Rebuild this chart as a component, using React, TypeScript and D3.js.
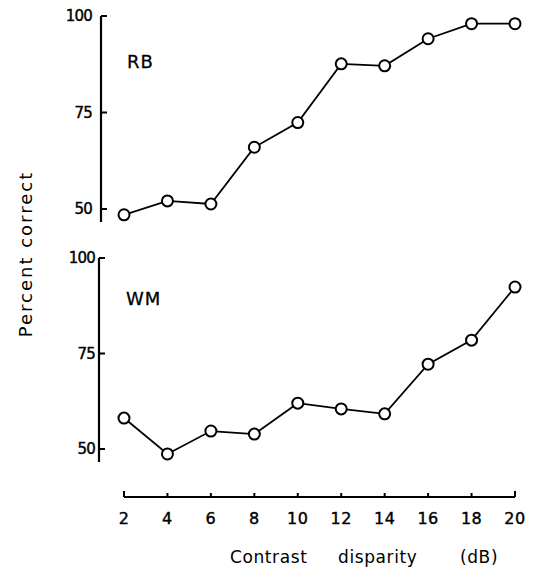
import React from "react";
import * as d3 from "d3";

const disparity = [2, 4, 6, 8, 10, 12, 14, 16, 18, 20];
const rbCorrect = [48.5, 52.1, 51.3, 66, 72.4, 87.6, 87.1, 94.1, 98, 98];
const wmCorrect = [58.1, 48.7, 54.7, 53.9, 62, 60.5, 59.2, 72.2, 78.5, 92.4];
const yTicks = [50, 75, 100];

const W = 535;
const H = 575;
const font = "'DejaVu Sans', sans-serif";

const x = d3.scaleLinear().domain([2, 20]).range([124, 515]);

const panels = [
  { name: "RB", values: rbCorrect, axisX: 101, y: d3.scaleLinear().domain([50, 100]).range([209, 16]), bottom: 222, labelGap: 9, nameX: 127, nameY: 68 },
  { name: "WM", values: wmCorrect, axisX: 99, y: d3.scaleLinear().domain([50, 100]).range([449, 258]), bottom: 462, labelGap: 4, nameX: 126, nameY: 305 },
];

function Panel({ p }: { p: (typeof panels)[number] }) {
  const line = d3
    .line<number>()
    .x((_, i) => x(disparity[i]))
    .y((d) => p.y(d));
  return (
    <g>
      <line x1={p.axisX} x2={p.axisX} y1={p.y(100)} y2={p.bottom} stroke="#000" strokeWidth={2.2} />
      {yTicks.map((t) => (
        <g key={t}>
          <line x1={p.axisX} x2={p.axisX + 6} y1={p.y(t)} y2={p.y(t)} stroke="#000" strokeWidth={2} />
          <text
            x={p.axisX - p.labelGap}
            y={p.y(t)}
            dy="0.36em"
            textAnchor="end"
            fontSize={15}
            fontFamily={font}
            letterSpacing={-0.8}
            stroke="#000"
            strokeWidth={0.4}
          >
            {t}
          </text>
        </g>
      ))}
      <text x={p.nameX} y={p.nameY} fontSize={18} fontFamily={font} letterSpacing={1} stroke="#000" strokeWidth={0.3}>
        {p.name}
      </text>
      <path d={line(p.values) ?? ""} fill="none" stroke="#000" strokeWidth={1.8} />
      {p.values.map((v, i) => (
        <circle key={i} cx={x(disparity[i])} cy={p.y(v)} r={5.5} fill="#fff" stroke="#000" strokeWidth={2} />
      ))}
    </g>
  );
}

export default function App() {
  const axisY = 497;
  return (
    <svg width={W} height={H} style={{ position: "absolute", left: 0, top: 0, background: "#fff" }}>
      {panels.map((p) => (
        <Panel key={p.name} p={p} />
      ))}
      <line x1={x(2)} x2={x(20)} y1={axisY} y2={axisY} stroke="#000" strokeWidth={2.2} />
      {x.ticks(9).map((t) => (
        <g key={t}>
          <line x1={x(t)} x2={x(t)} y1={axisY} y2={axisY - (t === 2 || t === 20 ? 6 : 4)} stroke="#000" strokeWidth={2} />
          <text
            x={x(t)}
            y={518}
            dy="0.36em"
            textAnchor="middle"
            fontSize={16}
            fontFamily={font}
            letterSpacing={0.5}
            stroke="#000"
            strokeWidth={0.4}
          >
            {t}
          </text>
        </g>
      ))}
      {[
        { s: "Contrast", at: 230 },
        { s: "disparity", at: 338 },
        { s: "(dB)", at: 460 },
      ].map((w) => (
        <text key={w.s} x={w.at} y={563} fontSize={17} fontFamily={font} letterSpacing={0.6}>
          {w.s}
        </text>
      ))}
      <text
        transform="translate(32,254) rotate(-90)"
        textAnchor="middle"
        fontSize={18}
        fontFamily={font}
        letterSpacing={2}
      >
        Percent correct
      </text>
    </svg>
  );
}
